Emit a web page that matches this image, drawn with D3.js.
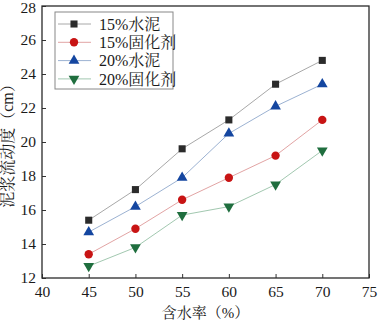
<!DOCTYPE html>
<meta charset="utf-8">
<script src="https://d3js.org/d3.v7.min.js"></script>
<style>
  body { margin: 0; background: #fff; }
  text { font-family: "Liberation Serif", "Noto Serif CJK SC", "Noto Sans CJK SC", serif; }
</style>
<div id="my_dataviz"></div>
<script>
// data
var waterContent = [45, 50, 55, 60, 65, 70];
var seriesNames = ["15%水泥", "15%固化剂", "20%水泥", "20%固化剂"];
var cement15 = [15.4, 17.2, 19.6, 21.3, 23.4, 24.8];
var agent15 = [13.4, 14.9, 16.6, 17.9, 19.2, 21.3];
var cement20 = [14.7, 16.2, 17.9, 20.5, 22.1, 23.4];
var agent20 = [12.7, 13.8, 15.7, 16.2, 17.5, 19.5];
var xTicks = [40, 45, 50, 55, 60, 65, 70, 75];
var yTicks = [12, 14, 16, 18, 20, 22, 24, 26, 28];

var series = [
  {name: seriesNames[0], values: cement15, marker: "#2b2b2b", line: "#a8a8a8", sym: d3.symbolSquare, size: 50, rot: 0},
  {name: seriesNames[1], values: agent15, marker: "#c81414", line: "#e2a4a4", sym: d3.symbolCircle, size: 55, rot: 0},
  {name: seriesNames[2], values: cement20, marker: "#1446a0", line: "#9cb2d2", sym: d3.symbolTriangle, size: 50, rot: 0},
  {name: seriesNames[3], values: agent20, marker: "#1f6e3e", line: "#a2c8b0", sym: d3.symbolTriangle, size: 50, rot: 180}
];

var margin = {top: 6, right: 9, bottom: 46, left: 42},
    width = 378 - margin.left - margin.right,
    height = 324 - margin.top - margin.bottom;

var svg = d3.select("#my_dataviz")
  .append("svg")
    .attr("width", 378)
    .attr("height", 324)
  .append("g")
    .attr("transform", "translate(" + margin.left + "," + margin.top + ")");

var x = d3.scaleLinear().domain([40, 75]).range([0, width]);
var y = d3.scaleLinear().domain([12, 28]).range([height, 0]);

// axes, ticks pointing inward
var xAxis = svg.append("g")
  .attr("transform", "translate(0," + height + ")")
  .call(d3.axisBottom(x).tickValues(xTicks).tickSizeInner(-4).tickSizeOuter(0).tickPadding(8));
var yAxis = svg.append("g")
  .call(d3.axisLeft(y).tickValues(yTicks).tickSizeInner(-4).tickSizeOuter(0).tickPadding(6));

[xAxis, yAxis].forEach(function(a) {
  a.selectAll("text").style("font-size", "15.5px").attr("fill", "#1a1a1a")
    .style("font-family", "'Liberation Serif', serif");
  a.selectAll("line").attr("stroke", "#333");
  a.select(".domain").remove();
});
// keep the top label inside the page
yAxis.selectAll("text").filter(d => d === 28).attr("dy", "0.42em");

// frame
svg.append("rect")
  .attr("width", width).attr("height", height)
  .attr("fill", "none").attr("stroke", "#2a2a2a").attr("stroke-width", 1.3);

// lines and markers
var line = d3.line().x((d, i) => x(waterContent[i])).y(d => y(d));
series.forEach(function(s) {
  svg.append("path")
    .datum(s.values)
    .attr("d", line)
    .attr("fill", "none")
    .attr("stroke", s.line)
    .attr("stroke-width", 1);
  svg.selectAll(null)
    .data(s.values)
    .enter().append("path")
    .attr("d", d3.symbol().type(s.sym).size(s.size))
    .attr("transform", (d, i) => "translate(" + x(waterContent[i]) + "," + y(d) + ") rotate(" + s.rot + ")")
    .attr("fill", s.marker);
});

// legend
var legend = svg.append("g").attr("transform", "translate(13,6)");
legend.append("rect")
  .attr("width", 118).attr("height", 77)
  .attr("fill", "#fff").attr("stroke", "#888").attr("stroke-width", 1);
series.forEach(function(s, i) {
  var g = legend.append("g").attr("transform", "translate(0," + (12 + i * 18.3) + ")");
  g.append("line").attr("x1", 3).attr("x2", 36).attr("stroke", s.line).attr("stroke-width", 1);
  g.append("path")
    .attr("d", d3.symbol().type(s.sym).size(s.size))
    .attr("transform", "translate(19,0) rotate(" + s.rot + ")")
    .attr("fill", s.marker);
  g.append("text")
    .attr("x", 44).attr("dy", "0.35em")
    .style("font-size", "16px").attr("fill", "#1a1a1a")
    .text(s.name);
});

// axis titles
svg.append("text")
  .attr("x", width / 2).attr("y", height + 40)
  .attr("text-anchor", "middle")
  .style("font-size", "15px").attr("fill", "#1a1a1a")
  .text("含水率（%）");
svg.append("text")
  .attr("transform", "translate(" + (-29) + "," + (height / 2) + ") rotate(-90)")
  .attr("text-anchor", "middle")
  .style("font-size", "16px").attr("fill", "#1a1a1a")
  .text("泥浆流动度（cm）");
</script>
